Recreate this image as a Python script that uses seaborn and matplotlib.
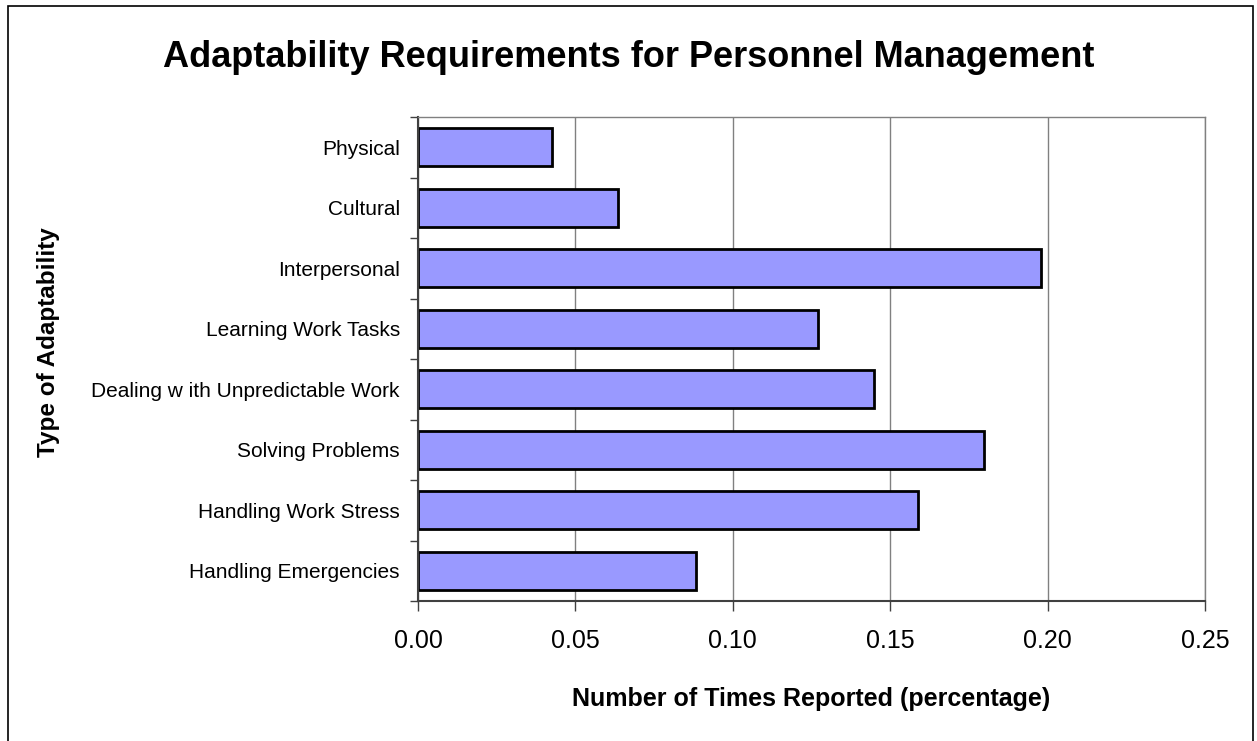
import matplotlib
matplotlib.use('Agg')

import matplotlib.pyplot as plt
import matplotlib.patches as mpatches
import seaborn as sns


categories = [
    'Physical',
    'Cultural',
    'Interpersonal',
    'Learning Work Tasks',
    'Dealing w ith Unpredictable Work',
    'Solving Problems',
    'Handling Work Stress',
    'Handling Emergencies',
]
values = [0.0426, 0.0635, 0.1978, 0.127, 0.1449, 0.1798, 0.1588, 0.0883]
xticks = [0.00, 0.05, 0.10, 0.15, 0.20, 0.25]


def draw_chart(export_file='out.png'):
    sns.set_style('white')
    plt.rcParams['font.family'] = ['Liberation Sans', 'DejaVu Sans']
    plt.rcParams['text.color'] = 'black'
    plt.rcParams['axes.labelcolor'] = 'black'
    plt.rcParams['xtick.color'] = 'black'
    plt.rcParams['ytick.color'] = 'black'

    fig = plt.figure(figsize=(12.57, 7.41), dpi=100)
    ax = fig.add_axes([418 / 1257, 1 - 601 / 741, 787 / 1257, 484 / 741])

    sns.barplot(
        x=values, y=categories, orient='h', color='#9999FF',
        saturation=1, edgecolor='black', linewidth=2, width=0.63, ax=ax)

    ax.set_xlim(0, 0.25)
    ax.set_ylim(len(categories) - 0.5, -0.5)
    ax.set_xticks(xticks)
    ax.set_xticklabels(['{:.2f}'.format(t) for t in xticks], fontsize=18)
    ax.xaxis.grid(True, color='#808080', linewidth=1)
    ax.set_axisbelow(True)

    # Ticks sit between the categories, labels sit on them.
    ax.set_yticks([i + 0.5 for i in range(-1, len(categories))], minor=True)
    ax.tick_params(axis='y', which='major', length=0, pad=13, labelsize=15)
    ax.tick_params(axis='y', which='minor', length=6, width=1,
                   color='#404040', direction='out', left=True)
    ax.tick_params(axis='x', length=7, width=1, color='#404040',
                   direction='out', bottom=True, pad=13)

    for side in ['left', 'bottom']:
        ax.spines[side].set_color('#404040')
        ax.spines[side].set_linewidth(1.5)
    for side in ['top', 'right']:
        ax.spines[side].set_color('#808080')
        ax.spines[side].set_linewidth(1)

    ax.set_xlabel('Number of Times Reported (percentage)',
                  fontsize=18, fontweight='bold')
    ax.xaxis.set_label_coords(0.5, -0.178)
    ax.set_ylabel('Type of Adaptability', fontsize=17.5, fontweight='bold')
    ax.yaxis.set_label_coords(-0.455, 0.535)

    fig.text(0.5, 1 - 67 / 741,
             'Adaptability Requirements for Personnel Management',
             ha='center', va='baseline', fontsize=26, fontweight='bold')

    # Chart area border, open at the bottom edge.
    border = mpatches.Rectangle(
        (8 / 1257, -0.01), 1245 / 1257, 0.992 + 0.01,
        transform=fig.transFigure, fill=False, edgecolor='black',
        linewidth=1.2)
    fig.patches.append(border)

    fig.savefig(export_file, dpi=100)


draw_chart()
